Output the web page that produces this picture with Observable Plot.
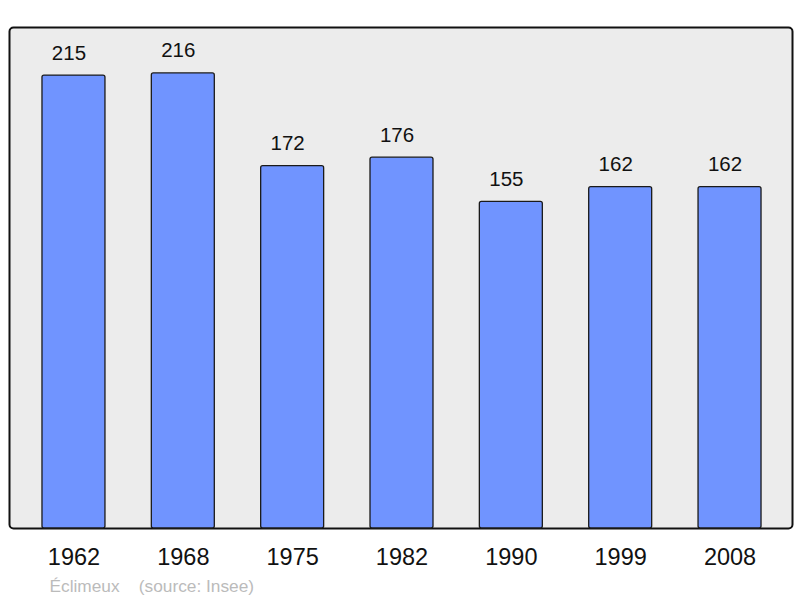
<!DOCTYPE html>
<html>
<head>
<meta charset="utf-8">
<script src="https://cdn.jsdelivr.net/npm/d3@7"></script>
<script src="https://cdn.jsdelivr.net/npm/@observablehq/plot@0.6"></script>
<style>
  html, body { margin: 0; padding: 0; background: #fff; }
  svg { display: block; font-family: "Liberation Sans", Arial, sans-serif; }
</style>
</head>
<body>
<div id="chart"></div>
<script>
const years = ["1962", "1968", "1975", "1982", "1990", "1999", "2008"];
const population = [215, 216, 172, 176, 155, 162, 162];
const captionText = "Éclimeux    (source: Insee)";

const data = years.map((year, i) => ({year, pop: population[i]}));

const chart = Plot.plot({
  width: 800,
  height: 598,
  marginTop: 27,
  marginBottom: 70,
  marginLeft: 9,
  marginRight: 8,
  style: {fontFamily: "'Liberation Sans', Arial, sans-serif", background: "#fff"},
  x: {domain: years, range: [18.8, 784.2], paddingInner: 0.424, paddingOuter: 0.212, round: false, label: null},
  y: {domain: [0, 237.8], axis: null},
  marks: [
    Plot.frame({fill: "#ececec", stroke: "#111", strokeWidth: 2, rx: 4}),
    Plot.barY(data, {x: "year", y: "pop", fill: "#7094ff", stroke: "#1a1a1a", strokeWidth: 1.3, rx: 2}),
    Plot.text(data, {x: "year", y: "pop", text: d => String(d.pop), dx: -5, dy: -16, lineAnchor: "bottom", fontSize: 20.5, fill: "#111"}),
    Plot.axisX({tickSize: 0, tickPadding: 20, fontSize: 23.5, fill: "#111", label: null}),
    Plot.text([captionText], {frameAnchor: "bottom-left", text: d => d, dx: 40, dy: 63, fontSize: 17.3, fill: "#bbbbbb", textAnchor: "start", lineAnchor: "bottom"})
  ]
});
document.getElementById("chart").appendChild(chart);
</script>
</body>
</html>
